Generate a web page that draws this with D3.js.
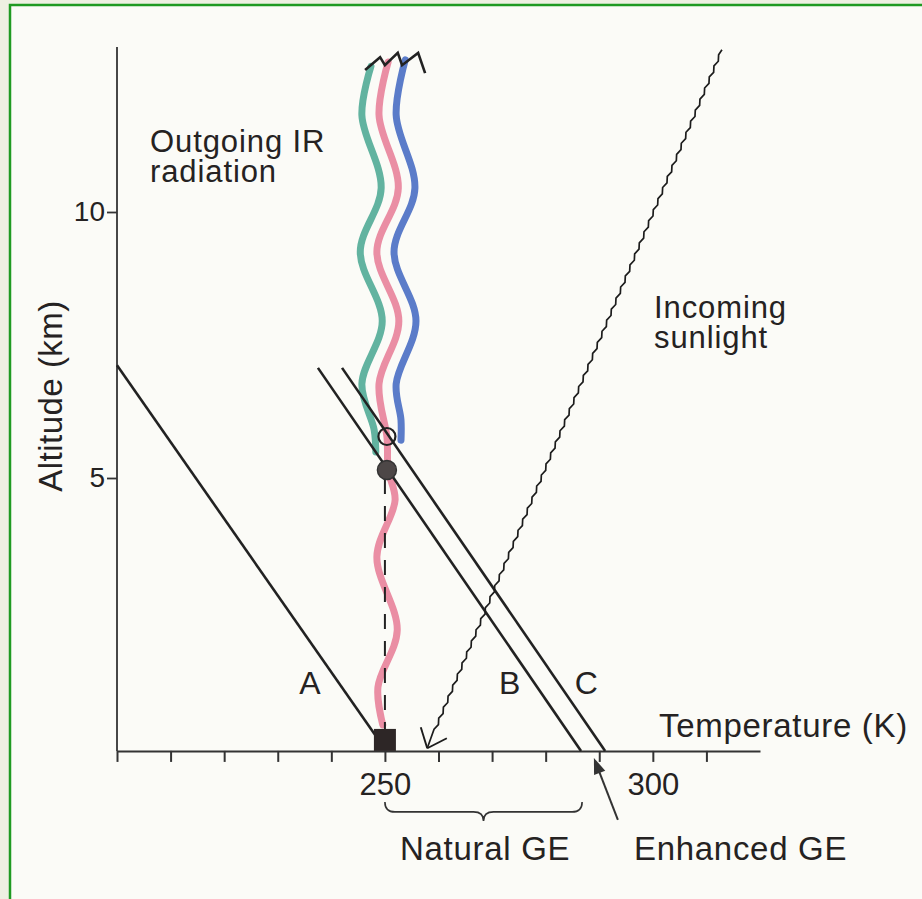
<!DOCTYPE html>
<html><head><meta charset="utf-8">
<script src="https://cdn.jsdelivr.net/npm/d3@7"></script>
<style>body{margin:0;background:#eef0e2;}svg{display:block;}text{font-family:"Liberation Sans",Arial,Helvetica,sans-serif;fill:#252222;}</style>
</head><body>
<script>
// ---------- data (temperature in K, altitude in km) ----------
const tempTicks = [200,210,220,230,240,250,260,270,280,290,300,310];
const tempTickLabels = [250, 300];
const altTicks = [5, 10];
const lapseNames = ["A", "B", "C"];
const lapseTop = [[200, 7.12], [237.5, 7.07], [242.0, 7.07]];
const lapseBottom = [[249.0, 0.05], [286.6, -0.13], [291.1, -0.13]];
const tealWave = [[247.4,12.74],[245.7,11.82],[249.3,10.45],[245.4,9.25],[249.5,7.95],[245.7,6.77],[248.0,5.90],[248.3,5.49]];
const pinkWave = [[250.6,12.82],[248.9,11.82],[252.5,10.45],[248.5,9.25],[252.6,7.95],[248.9,6.77],[250.4,5.75],[250.6,5.15],[251.9,4.59],[248.5,3.52],[252.3,2.14],[248.7,1.07],[249.6,0.36]];
const blueWave = [[253.8,12.86],[252.1,11.82],[255.6,10.45],[251.7,9.25],[255.8,7.95],[252.1,6.77],[253.0,6.09],[253.0,5.71]];
const breakMark = [[246.3,12.67],[249.1,12.91],[250.0,12.76],[252.4,12.99],[253.2,12.76],[256.2,12.99],[257.5,12.61]];
const sunlight = [[312.9, 13.05], [257.9, -0.08]];
const surfaceTemp = 250;
const emissionAltOpen = 5.78;   // open circle (enhanced)
const emissionAltFilled = 5.15; // filled circle (natural)
const naturalGE = [250, 286.8];
const enhancedArrowTemp = 289.0;

// ---------- layout ----------
const W = 922, H = 899;
const altBase = -0.13, altTop = 13.1;
const x = d3.scaleLinear().domain([200, 320]).range([117, 760]);
const y = d3.scaleLinear().domain([0, 10]).range([744, 212]);
const ink = "#222";

const svg = d3.select("body").append("svg").attr("width", W).attr("height", H);
svg.append("rect").attr("width", W).attr("height", H).attr("fill", "#eef0e2");
svg.append("rect").attr("x", 10).attr("y", 5).attr("width", 940).attr("height", 920)
  .attr("fill", "#fbfbf7").attr("stroke", "#1f9a22").attr("stroke-width", 2.5);

const baseY = y(altBase);

// waves (outgoing IR)
const waveLine = d3.line().x(d => x(d[0])).y(d => y(d[1])).curve(d3.curveCatmullRom.alpha(0.5));
[[tealWave, "#62b3a0"], [pinkWave, "#ea8ea4"], [blueWave, "#5b7cc9"]].forEach(([data, col]) => {
  svg.append("path").attr("d", waveLine(data)).attr("fill", "none")
    .attr("stroke", col).attr("stroke-width", 7).attr("stroke-linecap", "round");
});
svg.append("path").attr("d", d3.line().x(d => x(d[0])).y(d => y(d[1]))(breakMark))
  .attr("fill", "none").attr("stroke", ink).attr("stroke-width", 2.6).attr("stroke-linejoin", "miter");

// axes
const xAxis = svg.append("g").attr("transform", `translate(0,${baseY})`)
  .call(d3.axisBottom(x).tickValues(tempTicks).tickSize(11).tickSizeOuter(0).tickPadding(11)
    .tickFormat(d => tempTickLabels.includes(d) ? d : ""));
xAxis.select(".domain").attr("stroke", "#333").attr("stroke-width", 2);
xAxis.selectAll(".tick line").attr("stroke", "#333").attr("stroke-width", 2);
xAxis.selectAll(".tick text").attr("font-size", 31).attr("fill", ink)
  .attr("font-family", '"Liberation Sans",Arial,sans-serif');

const yAxis = svg.append("g").attr("transform", `translate(${x(200)},0)`)
  .call(d3.axisLeft(y).tickValues(altTicks).tickSize(10).tickPadding(2));
yAxis.select(".domain").remove();
yAxis.selectAll(".tick line").attr("stroke", "#333").attr("stroke-width", 1.8);
yAxis.selectAll(".tick text").attr("font-size", 28).attr("fill", ink)
  .attr("font-family", '"Liberation Sans",Arial,sans-serif');
svg.append("line").attr("x1", x(200)).attr("x2", x(200)).attr("y1", baseY).attr("y2", y(altTop))
  .attr("stroke", "#333").attr("stroke-width", 1.8);

// lapse-rate lines A, B, C
lapseNames.forEach((n, i) => {
  svg.append("line").attr("x1", x(lapseTop[i][0])).attr("y1", y(lapseTop[i][1]))
    .attr("x2", x(lapseBottom[i][0])).attr("y2", y(lapseBottom[i][1]))
    .attr("stroke", ink).attr("stroke-width", 2.6);
});
const labelPos = [[236.0, 0.94], [273.3, 0.94], [287.6, 0.94]];
lapseNames.forEach((n, i) => {
  svg.append("text").attr("x", x(labelPos[i][0])).attr("y", y(labelPos[i][1]))
    .attr("text-anchor", "middle").attr("font-size", 32).text(n);
});

// incoming sunlight (fine jagged line with arrow)
(function () {
  const x0 = x(sunlight[0][0]), y0 = y(sunlight[0][1]);
  const x1 = x(sunlight[1][0]), y1 = y(sunlight[1][1]);
  const len = Math.hypot(x1 - x0, y1 - y0);
  const ux = (x1 - x0) / len, uy = (y1 - y0) / len, px = -uy, py = ux;
  const pts = [[x0, y0]];
  const step = 6; let k = 1;
  for (let s = step; s < len - 20; s += step, k++) {
    const o = (k % 2 ? 1.1 : -1.1);
    pts.push([x0 + ux * s + px * o, y0 + uy * s + py * o]);
  }
  pts.push([x1, y1]);
  svg.append("path").attr("d", d3.line()(pts)).attr("fill", "none").attr("stroke", "#1c1c1c").attr("stroke-width", 1.7);
  const bl = 22, ang = 40 * Math.PI / 180;
  const bx = -ux, by = -uy;
  [ang, -ang].forEach(a => {
    const rx = bx * Math.cos(a) - by * Math.sin(a), ry = bx * Math.sin(a) + by * Math.cos(a);
    svg.append("line").attr("x1", x1).attr("y1", y1).attr("x2", x1 + rx * bl).attr("y2", y1 + ry * bl)
      .attr("stroke", "#1c1c1c").attr("stroke-width", 1.9);
  });
})();

// dashed line from emission height down to surface
svg.append("line").attr("x1", x(surfaceTemp)).attr("x2", x(surfaceTemp))
  .attr("y1", y(emissionAltFilled) + 9).attr("y2", baseY - 22)
  .attr("stroke", ink).attr("stroke-width", 2).attr("stroke-dasharray", "15,12");

// emission-height markers
svg.append("circle").attr("cx", x(surfaceTemp) + 2).attr("cy", y(emissionAltOpen)).attr("r", 8.5)
  .attr("fill", "none").attr("stroke", ink).attr("stroke-width", 2.2);
svg.append("circle").attr("cx", x(surfaceTemp) + 2).attr("cy", y(emissionAltFilled)).attr("r", 9.5)
  .attr("fill", "#4d4747").attr("stroke", "#333").attr("stroke-width", 1.5);
// surface square
svg.append("rect").attr("x", x(surfaceTemp) - 11).attr("y", baseY - 22).attr("width", 22).attr("height", 22)
  .attr("fill", "#2d2626");

// natural GE brace
(function () {
  const xa = x(naturalGE[0]), xb = x(naturalGE[1]), xm = (xa + xb) / 2;
  const t = baseY + 51, h = baseY + 61, tip = baseY + 70;
  const d = `M${xa},${t} Q${xa},${h} ${xa + 10},${h} L${xm - 10},${h} Q${xm},${h} ${xm},${tip} ` +
            `Q${xm},${h} ${xm + 10},${h} L${xb - 10},${h} Q${xb},${h} ${xb},${t}`;
  svg.append("path").attr("d", d).attr("fill", "none").attr("stroke", "#333").attr("stroke-width", 1.6);
})();

// enhanced GE arrow
(function () {
  const tx = x(enhancedArrowTemp), ty = baseY + 7;
  const sx = tx + 24, sy = baseY + 69;
  const len = Math.hypot(tx - sx, ty - sy), ux = (tx - sx) / len, uy = (ty - sy) / len;
  const hl = 16, hw = 6;
  svg.append("line").attr("x1", sx).attr("y1", sy).attr("x2", tx - ux * hl * 0.8).attr("y2", ty - uy * hl * 0.8)
    .attr("stroke", "#333").attr("stroke-width", 2);
  const bx = tx - ux * hl, by = ty - uy * hl;
  svg.append("path").attr("d", `M${tx},${ty} L${bx - uy * hw},${by + ux * hw} L${bx + uy * hw},${by - ux * hw} Z`)
    .attr("fill", "#333");
})();

// text labels
const lbl = (tx, ty, s) => svg.append("text").attr("x", tx).attr("y", ty)
  .attr("font-size", 31).attr("letter-spacing", 0.9).text(s);
lbl(150, 152, "Outgoing IR");
lbl(150, 182, "radiation");
lbl(654, 318, "Incoming");
lbl(654, 348, "sunlight");
lbl(659, 737, "Temperature (K)").attr("font-size", 33).attr("letter-spacing", 0.7);
lbl(400, 860, "Natural GE").attr("font-size", 33).attr("letter-spacing", 0.7);
lbl(634, 860, "Enhanced GE").attr("font-size", 33).attr("letter-spacing", 0.7);
svg.append("text").attr("transform", "translate(62,396) rotate(-90)").attr("text-anchor", "middle")
  .attr("font-size", 33).attr("letter-spacing", 0.5).text("Altitude (km)");
</script>
</body></html>
